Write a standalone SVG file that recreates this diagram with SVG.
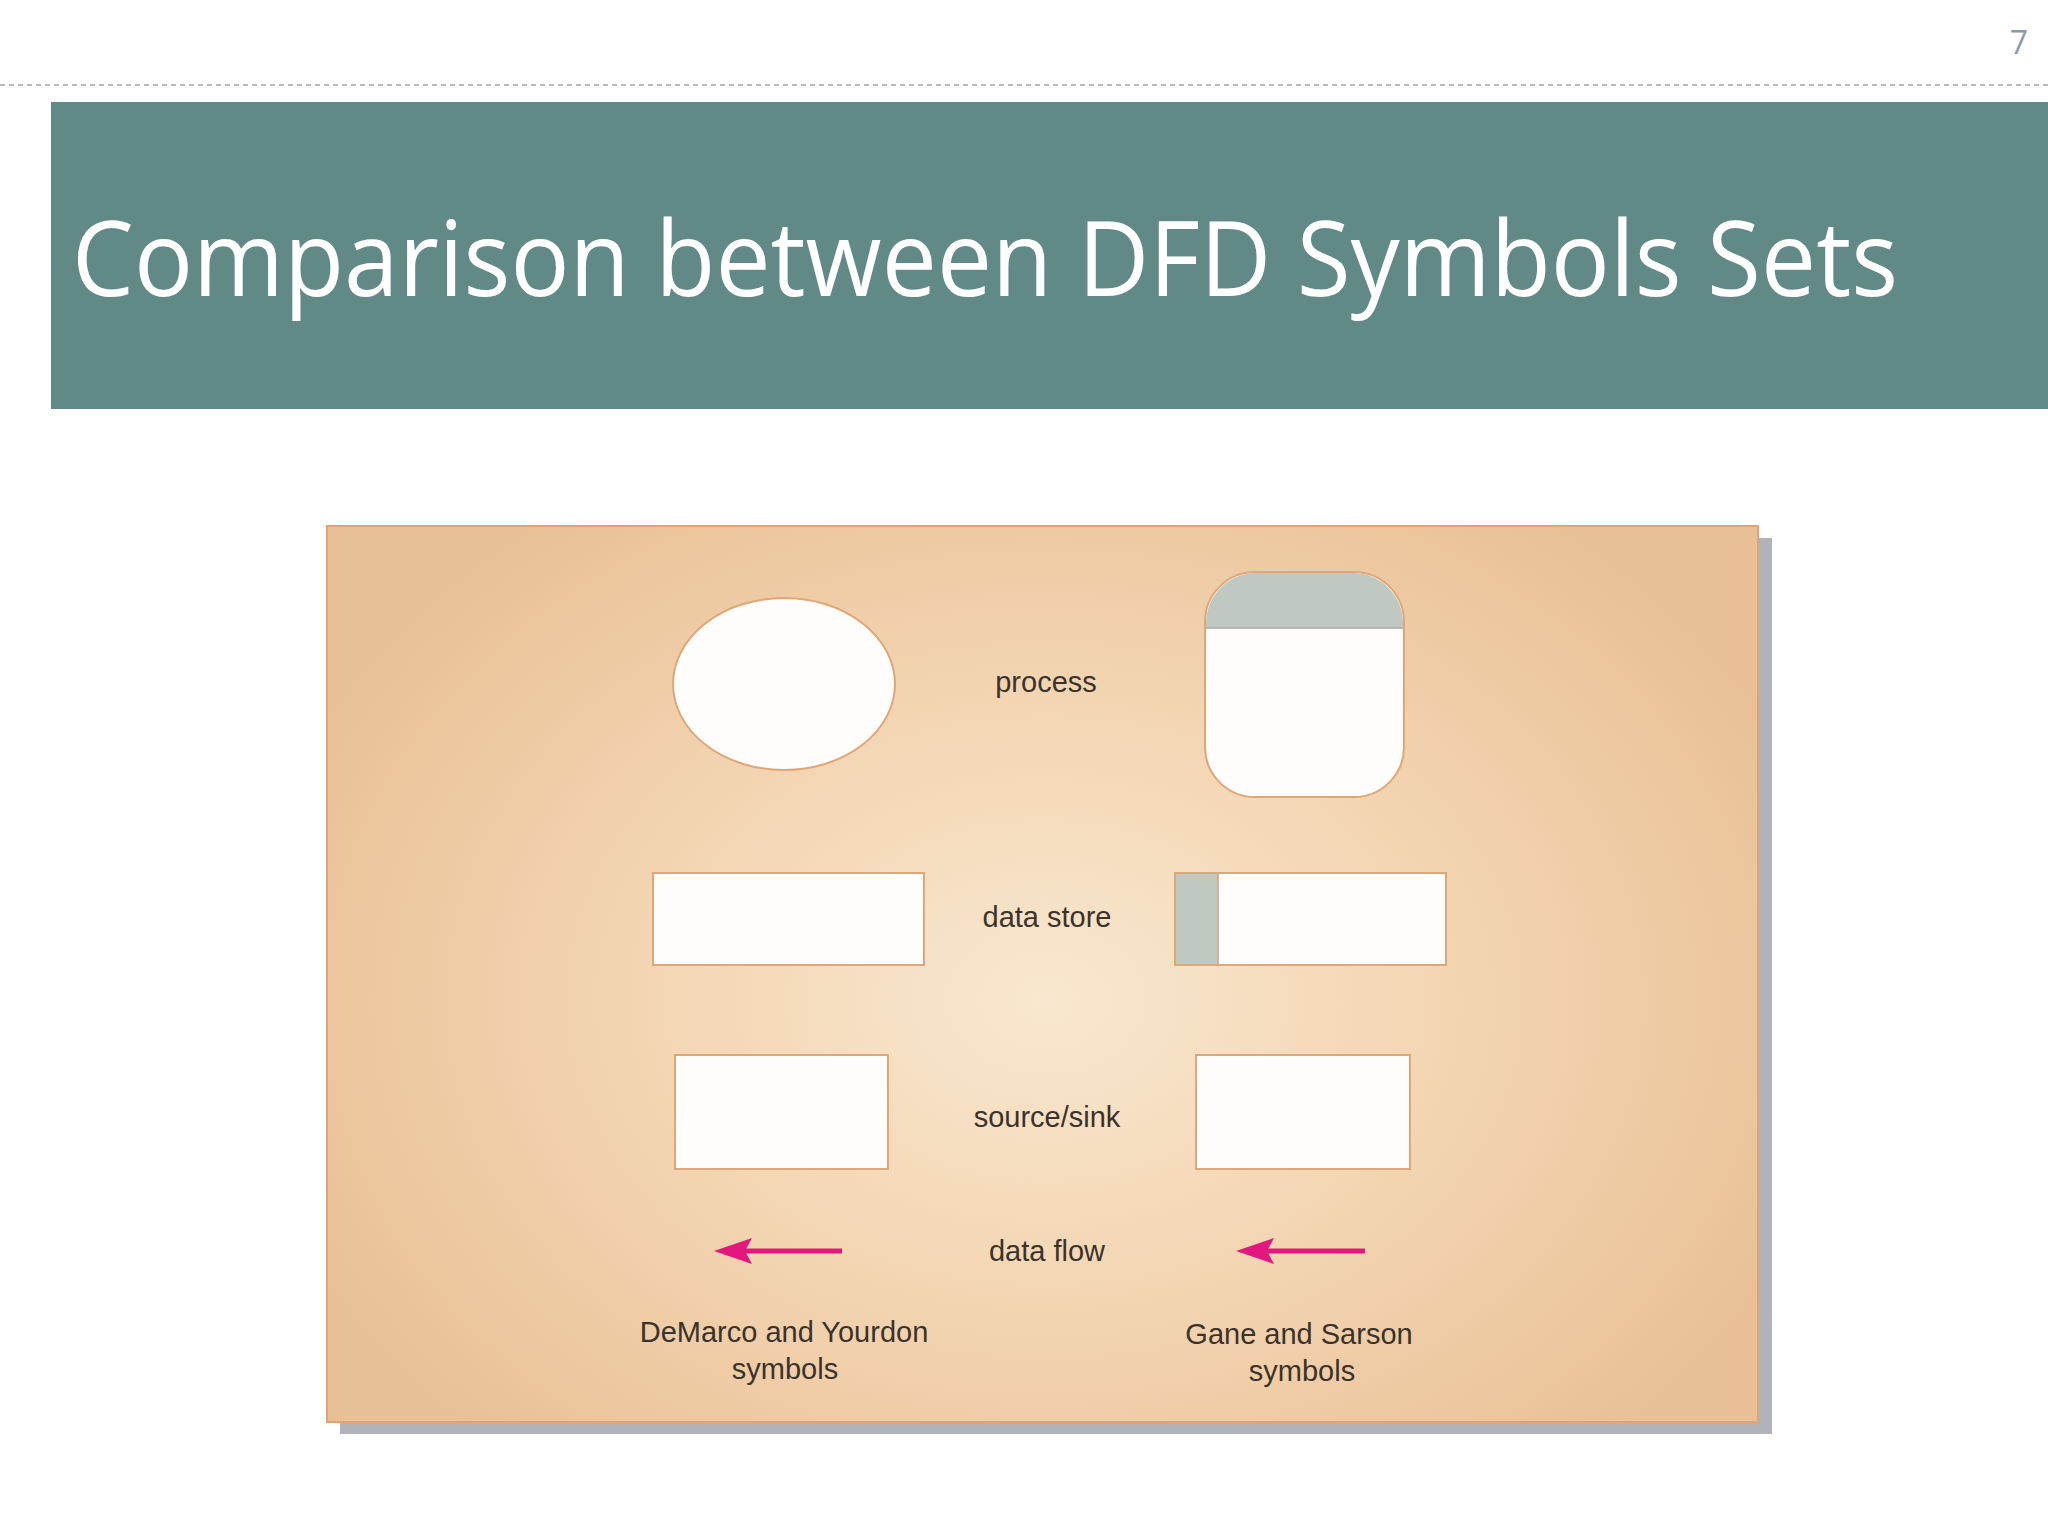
<svg xmlns="http://www.w3.org/2000/svg" width="2048" height="1536" viewBox="0 0 2048 1536">
  <defs>
    <radialGradient id="panelGrad" gradientUnits="userSpaceOnUse" cx="1045" cy="1000" r="820" gradientTransform="translate(1045 1000) scale(1 0.75) translate(-1045 -1000)">
      <stop offset="0" stop-color="#f9e7cf"/>
      <stop offset="0.55" stop-color="#f2d3af"/>
      <stop offset="1" stop-color="#e9c095"/>
    </radialGradient>
  </defs>
  <style>
    .lbl { font-family: "Liberation Sans", Arial, sans-serif; font-size: 29px; fill: #3b332b; text-anchor: middle; }
    .sym { fill: #fffdfb; stroke: #dfa677; stroke-width: 2; }
    .gray { fill: #bfc9c1; }
    .flow { stroke: #e3187f; stroke-width: 5; fill: none; }
    .head { fill: #e3187f; }
  </style>
  <rect x="0" y="0" width="2048" height="1536" fill="#ffffff"/>

  <g id="page-number">
    <text x="2019" y="54" font-family="'Open Sans', 'Liberation Sans', sans-serif" font-size="32" fill="#8a9aab" text-anchor="middle">7</text>
  </g>
  <line x1="0" y1="85" x2="2048" y2="85" stroke="#b9bcbf" stroke-width="2" stroke-dasharray="5 4"/>

  <g id="header">
    <rect x="51" y="102" width="1997" height="307" fill="#618a87"/>
    <text x="72" y="296" font-family="'Open Sans', 'Liberation Sans', sans-serif" font-size="105" fill="#ffffff" textLength="1826" lengthAdjust="spacingAndGlyphs">Comparison between DFD Symbols Sets</text>
  </g>

  <g id="panel">
    <rect x="340" y="538" width="1432" height="896" fill="#b0b4b8"/>
    <rect x="327" y="526" width="1431" height="896" fill="url(#panelGrad)" stroke="#e2a277" stroke-width="2"/>
  </g>

  <g id="dm-process">
    <ellipse cx="784" cy="684" rx="111" ry="86" class="sym"/>
  </g>
  <g id="gs-process">
    <rect x="1205" y="572" width="199" height="225" rx="50" ry="50" class="sym"/>
    <path d="M1206,628 L1206,622 A50,50 0 0 1 1255,573 L1354,573 A50,50 0 0 1 1403,622 L1403,628 Z" class="gray"/>
    <line x1="1206" y1="628" x2="1403" y2="628" stroke="#a7aba2" stroke-width="1.5"/>
  </g>
  <text class="lbl" x="1046" y="692">process</text>

  <g id="dm-datastore">
    <rect x="653" y="873" width="271" height="92" class="sym"/>
  </g>
  <g id="gs-datastore">
    <rect x="1175" y="873" width="271" height="92" class="sym"/>
    <rect x="1176" y="874" width="42" height="90" class="gray"/>
    <line x1="1218" y1="874" x2="1218" y2="964" stroke="#d4a07a" stroke-width="1.5"/>
  </g>
  <text class="lbl" x="1047" y="927">data store</text>

  <g id="dm-sourcesink">
    <rect x="675" y="1055" width="213" height="114" class="sym"/>
  </g>
  <g id="gs-sourcesink">
    <rect x="1196" y="1055" width="214" height="114" class="sym"/>
  </g>
  <text class="lbl" x="1047" y="1127">source/sink</text>

  <g id="connectors">
    <g id="dm-dataflow">
      <line x1="842" y1="1251" x2="735" y2="1251" class="flow"/>
      <path d="M714,1251 L752,1238 L745,1251 L752,1264 Z" class="head"/>
    </g>
    <g id="gs-dataflow">
      <line x1="1365" y1="1251" x2="1258" y2="1251" class="flow"/>
      <path d="M1236,1251 L1274,1238 L1267,1251 L1274,1264 Z" class="head"/>
    </g>
  </g>
  <text class="lbl" x="1047" y="1261">data flow</text>

  <g id="captions">
    <text class="lbl" x="784" y="1342">DeMarco and Yourdon</text>
    <text class="lbl" x="785" y="1379">symbols</text>
    <text class="lbl" x="1299" y="1344">Gane and Sarson</text>
    <text class="lbl" x="1302" y="1381">symbols</text>
  </g>
</svg>
